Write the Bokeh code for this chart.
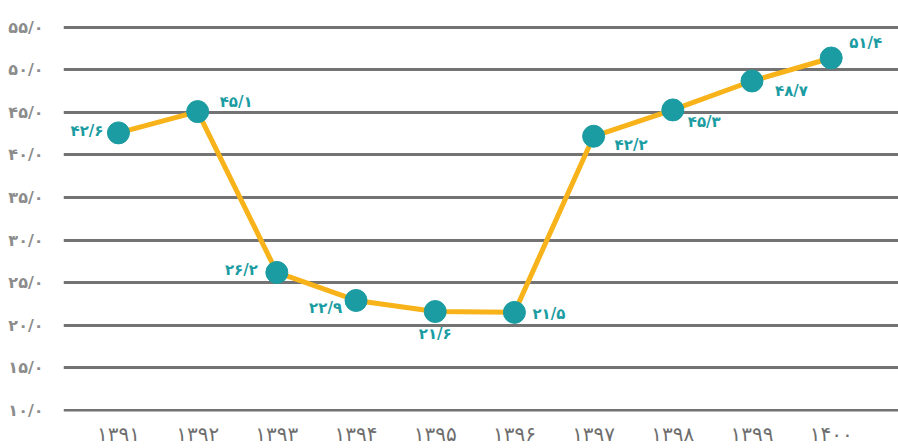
from bokeh.plotting import figure
from bokeh.models import ColumnDataSource, Range1d, FixedTicker
from bokeh.core.properties import value
from bokeh.embed import file_html
from bokeh.resources import INLINE

FA = str.maketrans("0123456789.", "۰۱۲۳۴۵۶۷۸۹/")

def fa(s):
    return str(s).translate(FA)

years = [1391, 1392, 1393, 1394, 1395, 1396, 1397, 1398, 1399, 1400]
values = [42.6, 45.1, 26.2, 22.9, 21.6, 21.5, 42.2, 45.3, 48.7, 51.4]
y_ticks = [10, 15, 20, 25, 30, 35, 40, 45, 50, 55]

year_labels = [fa(y) for y in years]
value_labels = [fa(f"{v:.1f}") for v in values]
y_tick_labels = [fa(f"{t:.1f}") for t in y_ticks]

# label placement (style)
lab_dx = [-15, 22, -19, -14, 0, 18, 21, 15, 23, 18]
lab_dy = [-2, -10, -2, 8, 22, 2, 9, 12, 10, -15]
lab_align = ["right", "left", "right", "right", "center", "left", "left", "left", "left", "left"]

src = ColumnDataSource(dict(x=years, y=values, t=value_labels, dx=lab_dx, dy=lab_dy, al=lab_align))

p = figure(width=898, height=448, output_backend="svg", toolbar_location=None,
           x_range=Range1d(1390.306, 1400.85), y_range=Range1d(9.85, 58.16),
           min_border_left=63, min_border_top=0, min_border_right=0, min_border_bottom=0)
p.outline_line_color = None
p.background_fill_color = "white"
p.border_fill_color = "white"

p.xgrid.grid_line_color = None
p.ygrid.grid_line_color = "#737373"
p.ygrid.grid_line_width = 3
p.ygrid.ticker = FixedTicker(ticks=y_ticks)

p.yaxis.ticker = FixedTicker(ticks=y_ticks)
p.yaxis.major_label_overrides = {t: l for t, l in zip(y_ticks, y_tick_labels)}
p.yaxis.axis_line_color = None
p.yaxis.major_tick_line_color = None
p.yaxis.minor_tick_line_color = None
p.yaxis.major_label_standoff = 14
p.yaxis.major_label_text_font = "DejaVu Sans"
p.yaxis.major_label_text_font_size = "16px"
p.yaxis.major_label_text_color = "#8c8c8c"
p.yaxis.major_label_text_font_style = "bold"

p.xaxis.ticker = FixedTicker(ticks=years)
p.xaxis.major_label_overrides = {y: l for y, l in zip(years, year_labels)}
p.xaxis.axis_line_color = None
p.xaxis.major_tick_line_color = None
p.xaxis.minor_tick_line_color = None
p.xaxis.major_label_standoff = 4
p.xaxis.major_label_text_font = "DejaVu Sans"
p.xaxis.major_label_text_font_size = "20px"
p.xaxis.major_label_text_color = "#6e6e6e"

p.line("x", "y", source=src, line_color="#F8B31A", line_width=5)
p.scatter("x", "y", source=src, size=22, fill_color="#1B9CA2", line_color="#1B9CA2")
p.text("x", "y", text="t", source=src, x_offset="dx", y_offset="dy", text_align="al",
       text_baseline="middle", text_font=value("DejaVu Sans"), text_font_size="15px",
       text_font_style="bold", text_color="#1B9CA2")

open("out.html", "w").write(file_html(p, INLINE))
